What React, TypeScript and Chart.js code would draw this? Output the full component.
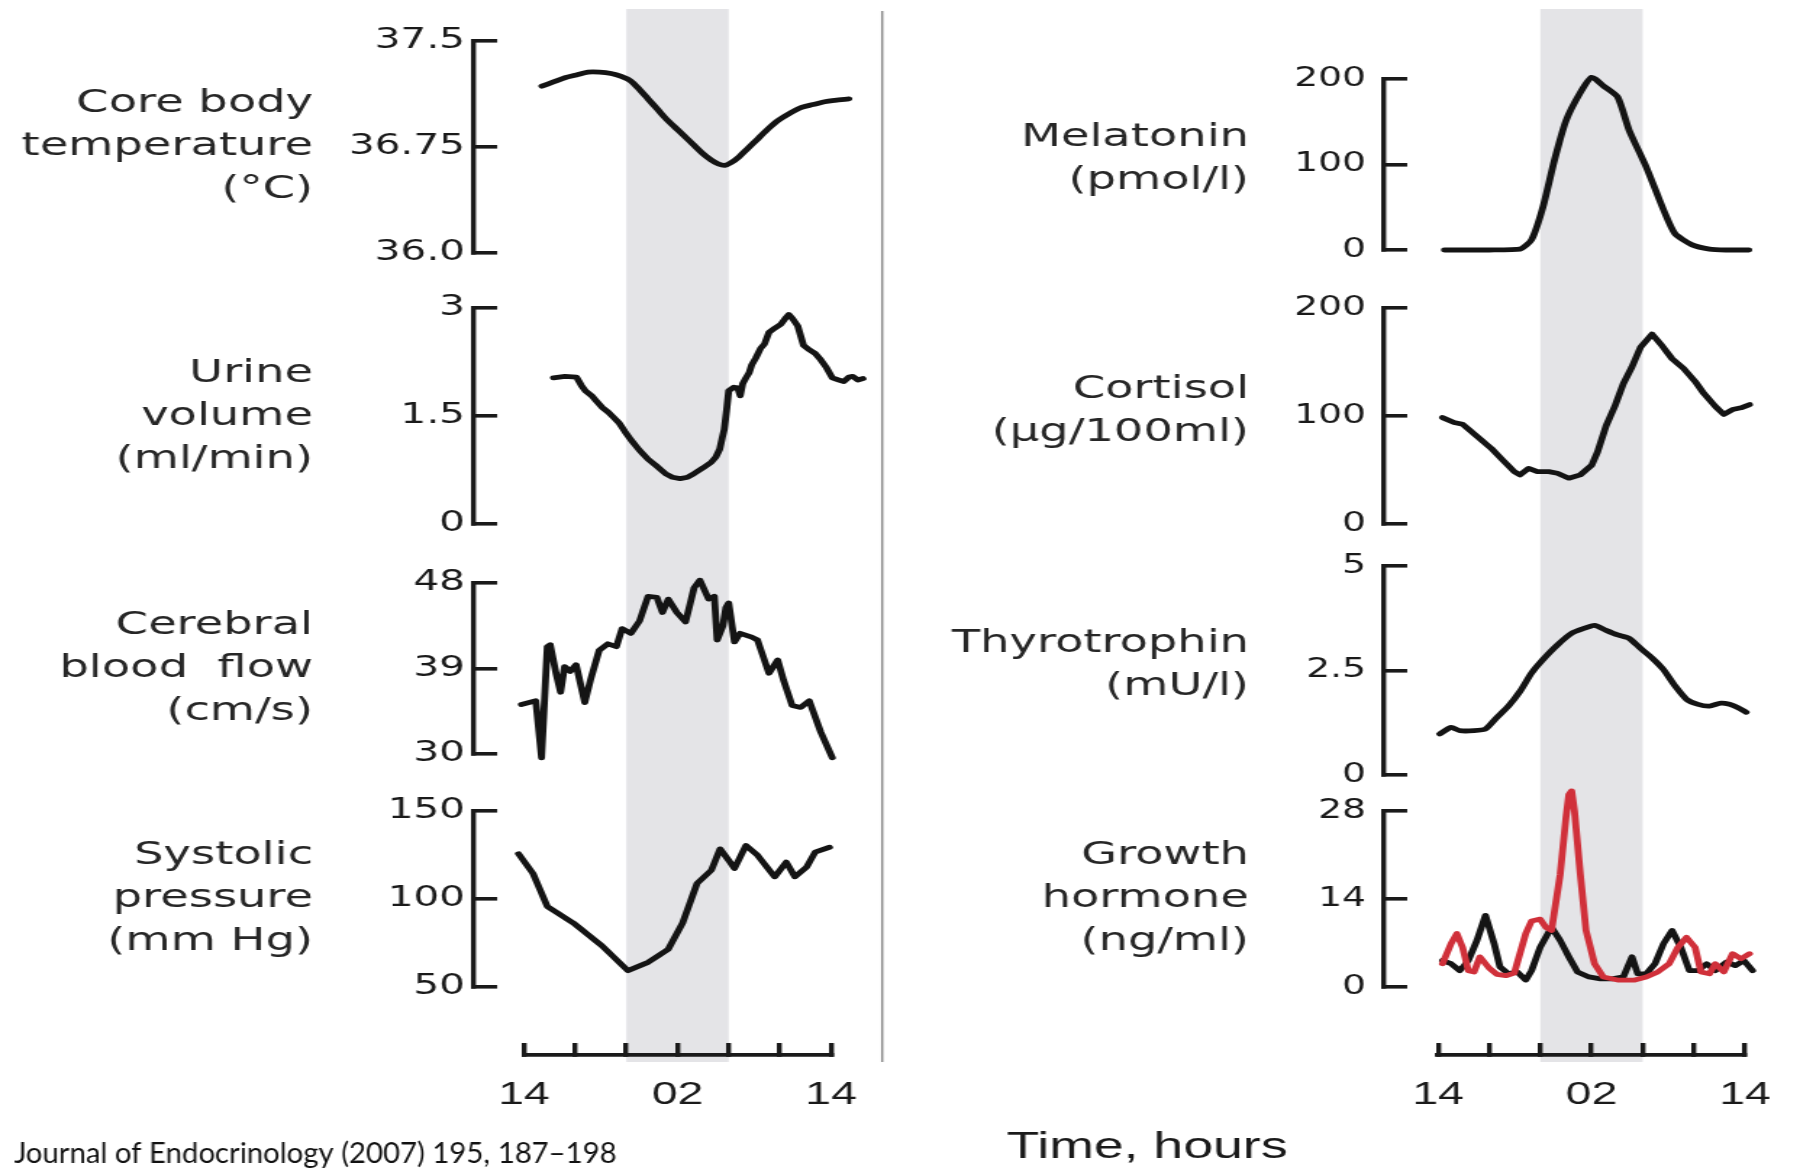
import { useEffect, useRef } from 'react';
import { Chart, registerables } from 'chart.js';

Chart.register(...registerables);

// ---------------- data (x = hours after 14:00) ----------------
const timeTickHours = [0, 4, 8, 12, 16, 20, 24];
const timeTickLabels = ['14', '', '', '02', '', '', '14'];
const sleepStartHour = 8; // 22:00
const sleepEndHour = 16; // 06:00
const dividerHour = 28;

const coreTempHours = [1.4, 2.3, 3.2, 4.1, 5.0, 5.9, 6.8, 7.6, 8.3, 9.0, 9.7, 10.4, 11.1, 11.8, 12.5, 13.2, 13.9, 14.6, 15.2, 15.7, 16.2, 16.8, 17.5, 18.3, 19.1, 19.9, 20.8, 21.7, 22.6, 23.5, 24.3, 25.4];
const coreTempValues = [37.18, 37.21, 37.24, 37.26, 37.28, 37.28, 37.27, 37.25, 37.22, 37.16, 37.09, 37.02, 36.95, 36.89, 36.83, 36.77, 36.71, 36.66, 36.63, 36.62, 36.64, 36.68, 36.74, 36.81, 36.88, 36.94, 36.99, 37.03, 37.05, 37.07, 37.08, 37.09];
const coreTempTicks = [36.0, 36.75, 37.5];
const coreTempTickLabels = ['36.0', '36.75', '37.5'];

const urineHours = [2.3, 3.2, 4.1, 4.5, 4.8, 5.3, 5.6, 6.1, 6.6, 7.0, 7.45, 7.9, 8.35, 9.0, 9.7, 10.4, 11.05, 11.6, 12.2, 12.8, 13.3, 14.0, 14.65, 15.0, 15.3, 15.5, 15.65, 15.85, 16.0, 16.4, 16.7, 16.9, 17.1, 17.35, 17.6, 17.8, 18.1, 18.5, 18.8, 19.15, 19.6, 20.05, 20.4, 20.7, 21.0, 21.4, 21.85, 22.3, 22.75, 23.2, 23.65, 24.1, 24.6, 25.0, 25.4, 25.7, 26.1, 26.5];
const urineValues = [2.03, 2.05, 2.04, 1.92, 1.85, 1.78, 1.72, 1.62, 1.55, 1.48, 1.4, 1.28, 1.17, 1.03, 0.9, 0.8, 0.7, 0.65, 0.63, 0.65, 0.7, 0.78, 0.86, 0.93, 1.04, 1.2, 1.31, 1.6, 1.85, 1.9, 1.89, 1.78, 1.95, 2.03, 2.1, 2.21, 2.3, 2.44, 2.5, 2.66, 2.72, 2.77, 2.85, 2.91, 2.85, 2.75, 2.48, 2.42, 2.37, 2.28, 2.17, 2.03, 2.0, 1.98, 2.04, 2.05, 2.0, 2.02];
const urineTicks = [0, 1.5, 3];
const urineTickLabels = ['0', '1.5', '3'];

const cerebralHours = [-0.2, 0.92, 1.37, 1.82, 2.05, 2.5, 2.86, 3.17, 3.62, 4.07, 4.75, 5.2, 5.87, 6.55, 7.22, 7.67, 8.35, 9.03, 9.7, 10.38, 10.82, 11.28, 11.95, 12.63, 13.3, 13.75, 14.43, 14.88, 15.1, 15.55, 15.78, 16.0, 16.45, 16.9, 17.8, 18.25, 19.15, 19.83, 20.28, 20.96, 21.63, 22.3, 23.2, 24.1];
const cerebralValues = [35.2, 35.6, 29.6, 41.3, 41.5, 38.5, 36.5, 39.2, 38.7, 39.4, 35.4, 37.8, 40.9, 41.6, 41.3, 43.2, 42.7, 44.0, 46.6, 46.5, 44.9, 46.3, 44.9, 43.9, 47.5, 48.3, 46.3, 46.6, 42.0, 43.5, 45.4, 45.9, 41.8, 42.7, 42.3, 42.0, 38.5, 39.9, 37.8, 35.1, 34.9, 35.6, 32.3, 29.6];
const cerebralTicks = [30, 39, 48];
const cerebralTickLabels = ['30', '39', '48'];

const systolicHours = [-0.43, 0.7, 1.82, 3.85, 6.1, 8.12, 9.7, 11.28, 12.4, 13.53, 14.65, 15.33, 16.0, 16.45, 17.35, 18.26, 19.6, 20.5, 21.18, 22.1, 22.76, 23.88];
const systolicValues = [125.7, 114.5, 95.8, 86.4, 73.4, 59.3, 64, 71.5, 86.4, 108.9, 116.4, 128.5, 122, 117.3, 130.4, 124.8, 112.6, 121, 112.6, 118.2, 126.6, 129.4];
const systolicTicks = [50, 100, 150];
const systolicTickLabels = ['50', '100', '150'];

const melatoninHours = [0.5, 2, 4, 6.41, 7.31, 8.2, 9.1, 10.0, 11.12, 12.02, 12.92, 14.04, 14.94, 16.28, 17.63, 18.53, 19.87, 21.22, 22.5, 24.3];
const melatoninValues = [0, 0, 0, 1, 12, 50, 105, 151, 184, 202, 192, 179, 140, 97, 47, 19, 6, 1, 0, 0];
const melatoninTicks = [0, 100, 200];
const melatoninTickLabels = ['0', '100', '200'];

const cortisolHours = [0.35, 1.25, 1.92, 2.37, 3.27, 4.17, 5.07, 5.96, 6.41, 7.08, 7.76, 8.66, 9.33, 10.23, 11.12, 12.02, 12.47, 13.14, 13.82, 14.49, 15.16, 15.83, 16.73, 17.4, 18.3, 19.2, 20.1, 20.77, 21.67, 22.34, 23.02, 23.69, 24.36];
const cortisolValues = [98.5, 94, 92.4, 88, 79, 70, 59, 48.5, 45.5, 51.5, 48.5, 48.5, 47, 42.4, 45.5, 54.5, 66.7, 91, 109, 130, 145.5, 163.6, 175.8, 166.7, 153, 144, 132, 121, 109, 101.5, 106, 107.6, 110.6];
const cortisolTicks = [0, 100, 200];
const cortisolTickLabels = ['0', '100', '200'];

const thyroHours = [0.13, 1.02, 1.7, 2.82, 3.71, 4.61, 5.51, 6.41, 7.31, 8.2, 9.33, 10.45, 11.35, 12.24, 13.14, 14.04, 14.94, 15.83, 16.73, 17.63, 18.53, 19.43, 20.33, 21.22, 22.12, 22.79, 23.46, 24.1];
const thyroValues = [0.98, 1.14, 1.06, 1.06, 1.1, 1.38, 1.65, 2.0, 2.44, 2.76, 3.11, 3.39, 3.5, 3.58, 3.46, 3.35, 3.27, 3.03, 2.8, 2.52, 2.13, 1.81, 1.69, 1.65, 1.72, 1.69, 1.61, 1.5];
const thyroTicks = [0, 2.5, 5];
const thyroTickLabels = ['0', '2.5', '5'];

const ghBlackHours = [0.35, 1.02, 1.7, 2.37, 3.04, 3.71, 4.39, 4.84, 5.51, 6.19, 6.86, 7.31, 7.98, 8.87, 9.55, 10.23, 10.9, 11.8, 12.7, 13.6, 14.49, 15.16, 15.61, 16.28, 16.96, 17.63, 18.3, 18.98, 19.65, 20.33, 21.0, 21.67, 22.57, 23.24, 23.91, 24.6];
const ghBlackValues = [4.2, 3.7, 2.6, 4.2, 7.4, 11.4, 6.9, 3.2, 2.1, 2.4, 1.1, 2.6, 6.3, 9.5, 7.4, 4.8, 2.4, 1.6, 1.3, 1.3, 1.6, 4.8, 2.1, 2.1, 3.7, 6.9, 9.0, 6.3, 2.6, 2.6, 3.7, 2.6, 4.0, 3.4, 4.2, 2.6];
const ghRedHours = [0.35, 1.02, 1.47, 1.92, 2.37, 2.82, 3.27, 4.0, 4.61, 5.3, 5.96, 6.86, 7.31, 7.98, 8.43, 8.87, 9.55, 10.0, 10.23, 10.45, 10.67, 11.12, 11.57, 12.24, 12.92, 14.04, 15.38, 16.28, 17.18, 18.07, 18.75, 19.43, 20.1, 20.55, 21.22, 21.67, 22.34, 23.02, 23.69, 24.36];
const ghRedValues = [3.7, 6.9, 8.5, 6.3, 2.6, 2.4, 4.8, 3.0, 2.0, 1.8, 2.2, 8.5, 10.5, 10.8, 9.5, 9.0, 17.9, 26.9, 30.6, 31.2, 28, 18, 9, 3.7, 1.6, 1.1, 1.1, 1.6, 2.4, 3.7, 6.3, 7.9, 6.3, 2.4, 2.1, 3.7, 2.4, 5.3, 4.5, 5.3];
const ghTicks = [0, 14, 28];
const ghTickLabels = ['0', '14', '28'];

const JOURNAL_TEXT = 'Journal of Endocrinology (2007) 195, 187\u2013198';
const TIME_TITLE = 'Time, hours';

// ---------------- layout / style ----------------
const PAGE_W = 1800;
const PAGE_H = 1171;
const COL_PAGE_W = 900;
const LOGICAL_W = 621;
const S = COL_PAGE_W / LOGICAL_W; // horizontal stretch of the original figure
const INK = '#1a1a1a';
const LINE_INK = '#141414';
const TITLE_INK = '#262626';
const BAND_COLOR = '#e4e4e7';
const RED = '#d0303a';
const BAND_TOP = 9;
const BAND_BOTTOM = 1062;
const AXIS_Y = 1055;
const X_AXIS_H = 60;
const PAD = 60;
const TICK_LEN = 16;
const TITLE_LINE = 43;

type Col = { canvasLeft: number; axisX: number; x0: number; x24: number; plotRight: number; titleRight: number; labelGap: number; tickFont: number };
const LEFT_COL: Col = { canvasLeft: 0, axisX: 474, x0: 524, x24: 831, plotRight: 885, titleRight: 313, labelGap: 9, tickFont: 28 };
const RIGHT_COL: Col = { canvasLeft: 900, axisX: 1384, x0: 1438, x24: 1745, plotRight: 1785, titleRight: 1249, labelGap: 18, tickFont: 26 };

type Series = { hours: number[]; values: number[]; color: string; tension: number };
type Panel = { key: string; title: string[]; ticks: number[]; tickLabels: string[]; series: Series[]; areaTop: number; areaBottom: number; titleShift: number };

const leftPanels: Panel[] = [
  { key: 'core', title: ['Core body', 'temperature', '(\u00B0C)'], ticks: coreTempTicks, tickLabels: coreTempTickLabels, series: [{ hours: coreTempHours, values: coreTempValues, color: LINE_INK, tension: 0.3 }], areaTop: 41, areaBottom: 253, titleShift: 0 },
  { key: 'urine', title: ['Urine', 'volume', '(ml/min)'], ticks: urineTicks, tickLabels: urineTickLabels, series: [{ hours: urineHours, values: urineValues, color: LINE_INK, tension: 0 }], areaTop: 308, areaBottom: 524, titleShift: 1 },
  { key: 'cbf', title: ['Cerebral', 'blood  flow', '(cm/s)'], ticks: cerebralTicks, tickLabels: cerebralTickLabels, series: [{ hours: cerebralHours, values: cerebralValues, color: LINE_INK, tension: 0 }], areaTop: 583, areaBottom: 754, titleShift: 0 },
  { key: 'sys', title: ['Systolic', 'pressure', '(mm Hg)'], ticks: systolicTicks, tickLabels: systolicTickLabels, series: [{ hours: systolicHours, values: systolicValues, color: LINE_INK, tension: 0 }], areaTop: 811, areaBottom: 987, titleShift: 0 },
];

const rightPanels: Panel[] = [
  { key: 'mel', title: ['Melatonin', '(pmol/l)'], ticks: melatoninTicks, tickLabels: melatoninTickLabels, series: [{ hours: melatoninHours, values: melatoninValues, color: LINE_INK, tension: 0.2 }], areaTop: 79, areaBottom: 250, titleShift: -5 },
  { key: 'cort', title: ['Cortisol', '(\u00B5g/100ml)'], ticks: cortisolTicks, tickLabels: cortisolTickLabels, series: [{ hours: cortisolHours, values: cortisolValues, color: LINE_INK, tension: 0 }], areaTop: 308, areaBottom: 524, titleShift: -5 },
  { key: 'tsh', title: ['Thyrotrophin', '(mU/l)'], ticks: thyroTicks, tickLabels: thyroTickLabels, series: [{ hours: thyroHours, values: thyroValues, color: LINE_INK, tension: 0.2 }], areaTop: 566, areaBottom: 775, titleShift: -5 },
  { key: 'gh', title: ['Growth', 'hormone', '(ng/ml)'], ticks: ghTicks, tickLabels: ghTickLabels, series: [
    { hours: ghRedHours, values: ghRedValues, color: RED, tension: 0 },
    { hours: ghBlackHours, values: ghBlackValues, color: LINE_INK, tension: 0 },
  ], areaTop: 811, areaBottom: 987, titleShift: 0 },
];

function buildPanel(p: Panel, col: Col): any {
  const hourW = (col.x24 - col.x0) / 24;
  const xMin = (col.axisX - col.x0) / hourW;
  const xMax = (col.plotRight - col.x0) / hourW;
  const axisLogical = (col.axisX - col.canvasLeft) / S;
  const rightPad = (col.canvasLeft + COL_PAGE_W - col.plotRight) / S;
  const titleX = (col.titleRight - col.canvasLeft) / S;
  const titlePlugin = {
    id: 'panelTitle',
    afterDraw(chart: any) {
      const { ctx, chartArea } = chart;
      ctx.save();
      ctx.font = '32px "DejaVu Sans"';
      ctx.fillStyle = TITLE_INK;
      ctx.textAlign = 'right';
      ctx.textBaseline = 'middle';
      const mid = (chartArea.top + chartArea.bottom) / 2 + p.titleShift;
      const n = p.title.length;
      p.title.forEach((line, i) => ctx.fillText(line, titleX, mid + (i - (n - 1) / 2) * TITLE_LINE));
      ctx.restore();
    },
  };
  return {
    type: 'line',
    data: {
      datasets: p.series.map((s) => ({
        data: s.hours.map((h, i) => ({ x: h, y: s.values[i] })),
        borderColor: s.color,
        borderWidth: 4.8,
        pointRadius: 0,
        tension: s.tension,
        clip: false,
        fill: false,
        borderJoinStyle: 'round',
        borderCapStyle: 'round',
      })),
    },
    options: {
      responsive: false,
      animation: false,
      events: [],
      layout: { padding: { left: 0, right: rightPad, top: PAD, bottom: PAD } },
      plugins: { legend: { display: false }, tooltip: { enabled: false } },
      scales: {
        x: { type: 'linear', min: xMin, max: xMax, display: false },
        y: {
          type: 'linear',
          min: p.ticks[0],
          max: p.ticks[p.ticks.length - 1],
          afterBuildTicks: (s: any) => { s.ticks = p.ticks.map((v) => ({ value: v })); },
          afterFit: (s: any) => { s.width = axisLogical; },
          ticks: {
            autoSkip: false,
            callback: (_v: any, i: number) => p.tickLabels[i],
            font: { family: 'DejaVu Sans', size: col.tickFont },
            color: INK,
            padding: TICK_LEN + col.labelGap / S,
          },
          grid: { drawOnChartArea: false, drawTicks: true, tickLength: -TICK_LEN, tickWidth: 3.6, tickColor: INK, lineWidth: 3.6, color: INK },
          border: { display: true, width: 3.4, color: INK },
        },
      },
    },
    plugins: [titlePlugin],
  };
}

function buildFrame(col: Col, isLeft: boolean): any {
  const caLeft = (col.x0 - col.canvasLeft) / S;
  const caRight = (col.x24 - col.canvasLeft) / S;
  const framePlugin = {
    id: 'frameDecor',
    beforeDraw(chart: any) {
      const { ctx, chartArea, scales } = chart;
      const x1 = scales.x.getPixelForValue(sleepStartHour);
      const x2 = scales.x.getPixelForValue(sleepEndHour);
      ctx.save();
      ctx.fillStyle = BAND_COLOR;
      ctx.fillRect(x1, chartArea.top, x2 - x1, BAND_BOTTOM - chartArea.top);
      ctx.restore();
    },
    afterDraw(chart: any) {
      const { ctx, scales } = chart;
      ctx.save();
      if (isLeft) {
        const xd = scales.x.getPixelForValue(dividerHour);
        ctx.strokeStyle = '#8c8c8c';
        ctx.lineWidth = 1.5;
        ctx.beginPath();
        ctx.moveTo(xd, 11);
        ctx.lineTo(xd, BAND_BOTTOM);
        ctx.stroke();
        // journal reference in an unstretched face
        ctx.scale(1 / S, 1);
        ctx.font = '100px Lato';
        const w = ctx.measureText(JOURNAL_TEXT).width;
        ctx.font = `${(100 * 603) / w}px Lato`;
        ctx.fillStyle = '#111111';
        ctx.textAlign = 'left';
        ctx.textBaseline = 'middle';
        ctx.fillText(JOURNAL_TEXT, 14, 1154);
      } else {
        ctx.font = '37px "Liberation Sans"';
        ctx.fillStyle = INK;
        ctx.textAlign = 'center';
        ctx.textBaseline = 'middle';
        ctx.fillText(TIME_TITLE, (1147 - col.canvasLeft) / S, 1148);
      }
      ctx.restore();
    },
  };
  return {
    type: 'line',
    data: { datasets: [] },
    options: {
      responsive: false,
      animation: false,
      events: [],
      layout: { padding: { left: caLeft, right: LOGICAL_W - caRight, top: BAND_TOP, bottom: PAGE_H - AXIS_Y - X_AXIS_H } },
      plugins: { legend: { display: false }, tooltip: { enabled: false } },
      scales: {
        x: {
          type: 'linear',
          min: timeTickHours[0],
          max: timeTickHours[timeTickHours.length - 1],
          position: 'bottom',
          afterBuildTicks: (s: any) => { s.ticks = timeTickHours.map((v) => ({ value: v })); },
          afterFit: (s: any) => { s.height = X_AXIS_H; },
          ticks: {
            autoSkip: false,
            maxRotation: 0,
            minRotation: 0,
            callback: (_v: any, i: number) => timeTickLabels[i],
            font: { family: 'Liberation Sans', size: 32, lineHeight: 2.5 },
            color: INK,
            padding: 12,
          },
          grid: { drawOnChartArea: false, drawTicks: true, tickLength: -12, tickWidth: 3.4, tickColor: INK, lineWidth: 3.4, color: INK },
          border: { display: true, width: 3.8, color: INK },
        },
        y: { display: false, min: 0, max: 1 },
      },
    },
    plugins: [framePlugin],
  };
}

function ChartCanvas({ left, top, height, build }: { left: number; top: number; height: number; build: () => any }) {
  const ref = useRef<HTMLCanvasElement | null>(null);
  useEffect(() => {
    const chart = new Chart(ref.current as HTMLCanvasElement, build());
    return () => chart.destroy();
  }, []);
  return (
    <canvas
      ref={ref}
      width={LOGICAL_W}
      height={height}
      style={{ position: 'absolute', left: `${left}px`, top: `${top}px`, width: `${COL_PAGE_W}px`, height: `${height}px` }}
    />
  );
}

export default function App() {
  return (
    <div style={{ position: 'absolute', left: 0, top: 0, width: PAGE_W, height: PAGE_H, background: '#ffffff', overflow: 'hidden' }}>
      <ChartCanvas left={0} top={0} height={PAGE_H} build={() => buildFrame(LEFT_COL, true)} />
      <ChartCanvas left={900} top={0} height={PAGE_H} build={() => buildFrame(RIGHT_COL, false)} />
      {leftPanels.map((p) => (
        <ChartCanvas key={p.key} left={0} top={p.areaTop - PAD} height={p.areaBottom - p.areaTop + 2 * PAD} build={() => buildPanel(p, LEFT_COL)} />
      ))}
      {rightPanels.map((p) => (
        <ChartCanvas key={p.key} left={900} top={p.areaTop - PAD} height={p.areaBottom - p.areaTop + 2 * PAD} build={() => buildPanel(p, RIGHT_COL)} />
      ))}
    </div>
  );
}
